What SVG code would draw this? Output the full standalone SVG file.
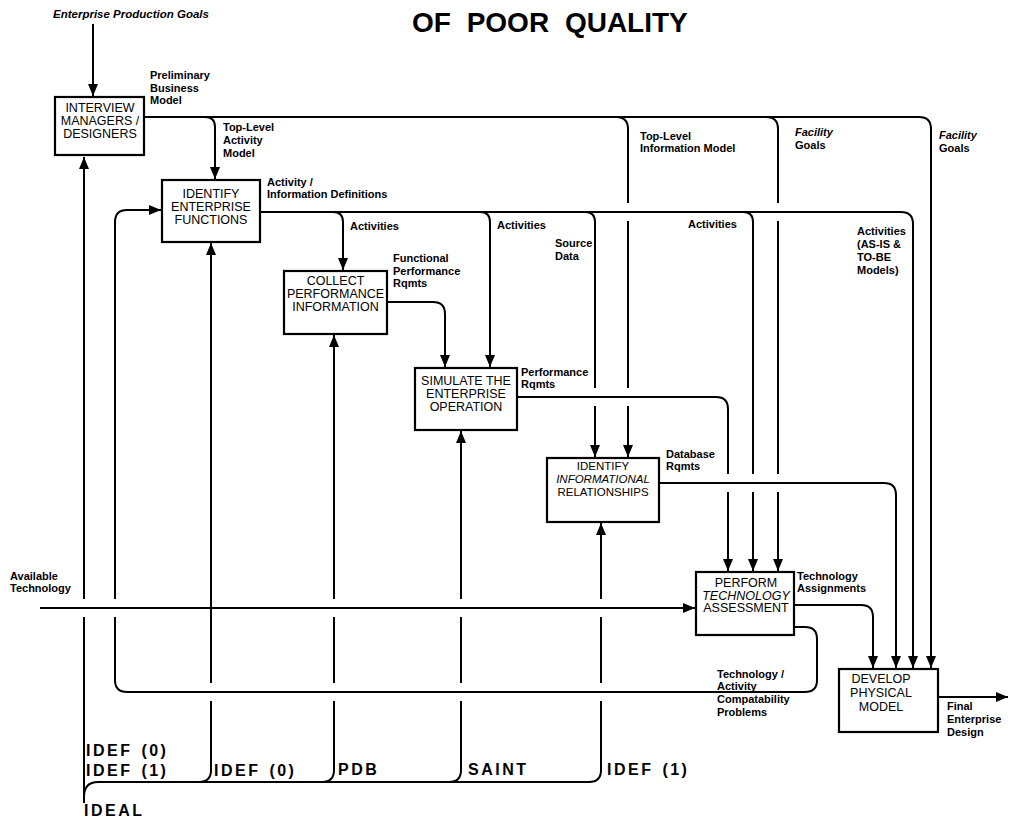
<svg xmlns="http://www.w3.org/2000/svg" width="1009" height="820" viewBox="0 0 1009 820">
<style>
.ln{fill:none;stroke:#000;stroke-width:2}
.box{fill:#fff;stroke:#000;stroke-width:2.2}
.bt{font-family:"Liberation Sans",Arial,sans-serif;font-size:12.5px;text-anchor:middle;fill:#000}
.lb{font-family:"Liberation Sans",Arial,sans-serif;font-size:11px;font-weight:bold;fill:#000}
.it{font-style:italic}
.mech{font-family:"Liberation Sans",Arial,sans-serif;font-size:16px;font-weight:bold;letter-spacing:2.5px;word-spacing:2px;fill:#000}
.title{font-family:"Liberation Sans",Arial,sans-serif;font-size:28px;font-weight:bold;word-spacing:8px;fill:#000}
</style>
<defs>
<marker id="ah" markerWidth="12" markerHeight="10" refX="12" refY="5" orient="auto" markerUnits="userSpaceOnUse"><path d="M0,0 L12,5 L0,10 z" fill="#000"/></marker>
</defs>
<rect width="1009" height="820" fill="#fff"/>
<text class="title" x="412" y="32">OF POOR QUALITY</text>

<g id="connectors">
<!-- control input -->
<path class="ln" d="M93 24 V96" marker-end="url(#ah)"/>
<!-- IDEAL mechanism -->
<path class="ln" d="M84 803 V617"/>
<path class="ln" d="M84 599 V157" marker-end="url(#ah)"/>
<path class="ln" d="M84 797 Q84 782 98 782 H589 Q601 782 601 770 V701"/>
<path class="ln" d="M601 683 V617"/>
<path class="ln" d="M601 599 V523" marker-end="url(#ah)"/>
<path class="ln" d="M199 782 Q211 782 211 770 V701"/>
<path class="ln" d="M211 683 V243" marker-end="url(#ah)"/>
<path class="ln" d="M322 782 Q334 782 334 770 V701"/>
<path class="ln" d="M334 683 V617"/>
<path class="ln" d="M334 599 V335" marker-end="url(#ah)"/>
<path class="ln" d="M449 782 Q461 782 461 770 V701"/>
<path class="ln" d="M461 683 V617"/>
<path class="ln" d="M461 599 V431" marker-end="url(#ah)"/>
<!-- Available technology -->
<path class="ln" d="M40 608 H695" marker-end="url(#ah)"/>
<!-- Interview output -->
<path class="ln" d="M144 117 H919 Q931 117 931 129 V668" marker-end="url(#ah)"/>
<path class="ln" d="M205 117 Q215 117 215 127 V179" marker-end="url(#ah)"/>
<path class="ln" d="M616 117 Q628 117 628 129 V203"/>
<path class="ln" d="M628 221 V388"/>
<path class="ln" d="M628 406 V457" marker-end="url(#ah)"/>
<path class="ln" d="M766 117 Q778 117 778 129 V203"/>
<path class="ln" d="M778 221 V474"/>
<path class="ln" d="M778 492 V571" marker-end="url(#ah)"/>
<!-- Identify enterprise functions output -->
<path class="ln" d="M260 212 H901 Q913 212 913 224 V668" marker-end="url(#ah)"/>
<path class="ln" d="M333 212 Q343 212 343 222 V270" marker-end="url(#ah)"/>
<path class="ln" d="M480 212 Q490 212 490 222 V367" marker-end="url(#ah)"/>
<path class="ln" d="M585 212 Q595 212 595 222 V388"/>
<path class="ln" d="M595 406 V457" marker-end="url(#ah)"/>
<path class="ln" d="M743 212 Q753 212 753 222 V474"/>
<path class="ln" d="M753 492 V571" marker-end="url(#ah)"/>
<!-- Collect output -->
<path class="ln" d="M387 302 H433 Q445 302 445 314 V367" marker-end="url(#ah)"/>
<!-- Simulate output -->
<path class="ln" d="M517 397 H716 Q728 397 728 409 V474"/>
<path class="ln" d="M728 492 V571" marker-end="url(#ah)"/>
<!-- Identify informational output -->
<path class="ln" d="M659 483 H884 Q896 483 896 495 V668" marker-end="url(#ah)"/>
<!-- Perform outputs -->
<path class="ln" d="M794 605 H861 Q873 605 873 617 V668" marker-end="url(#ah)"/>
<path class="ln" d="M794 627 H805 Q817 627 817 639 V680 Q817 692 805 692 H127 Q115 692 115 680 V617"/>
<path class="ln" d="M115 599 V222 Q115 210 127 210 H161" marker-end="url(#ah)"/>
<!-- Develop output -->
<path class="ln" d="M938 697 H1008" marker-end="url(#ah)"/>
</g>

<g id="labels">
<text class="lb it" x="53" y="18" style="font-size:11.5px">Enterprise Production Goals</text>
<text class="lb" x="150" y="79">Preliminary</text>
<text class="lb" x="150" y="91.5">Business</text>
<text class="lb" x="150" y="104">Model</text>
<text class="lb" x="223" y="131">Top-Level</text>
<text class="lb" x="223" y="144">Activity</text>
<text class="lb" x="223" y="157">Model</text>
<text class="lb" x="267" y="186">Activity /</text>
<text class="lb" x="267" y="198">Information Definitions</text>
<text class="lb" x="640" y="140">Top-Level</text>
<text class="lb" x="640" y="152">Information Model</text>
<text class="lb it" x="795" y="136">Facility</text>
<text class="lb" x="795" y="149">Goals</text>
<text class="lb it" x="939" y="139">Facility</text>
<text class="lb" x="939" y="152">Goals</text>
<text class="lb" x="350" y="230">Activities</text>
<text class="lb" x="497" y="229">Activities</text>
<text class="lb" x="555" y="247">Source</text>
<text class="lb" x="555" y="260">Data</text>
<text class="lb" x="688" y="228">Activities</text>
<text class="lb" x="857" y="235">Activities</text>
<text class="lb" x="857" y="248">(AS-IS &amp;</text>
<text class="lb" x="857" y="261">TO-BE</text>
<text class="lb" x="857" y="274">Models)</text>
<text class="lb" x="393" y="262">Functional</text>
<text class="lb" x="393" y="275">Performance</text>
<text class="lb" x="393" y="287">Rqmts</text>
<text class="lb" x="521" y="376">Performance</text>
<text class="lb" x="521" y="388">Rqmts</text>
<text class="lb" x="666" y="458">Database</text>
<text class="lb" x="666" y="470">Rqmts</text>
<text class="lb" x="10" y="580">Available</text>
<text class="lb" x="10" y="592">Technology</text>
<text class="lb" x="797" y="580">Technology</text>
<text class="lb" x="797" y="592">Assignments</text>
<text class="lb" x="717" y="678">Technology /</text>
<text class="lb" x="717" y="690">Activity</text>
<text class="lb" x="717" y="703">Compatability</text>
<text class="lb" x="717" y="716">Problems</text>
<text class="lb" x="947" y="710">Final</text>
<text class="lb" x="947" y="723">Enterprise</text>
<text class="lb" x="947" y="736">Design</text>
<text class="mech" x="86" y="756">IDEF (0)</text>
<text class="mech" x="86" y="776">IDEF (1)</text>
<text class="mech" x="214" y="776">IDEF (0)</text>
<text class="mech" x="338" y="775">PDB</text>
<text class="mech" x="468" y="775">SAINT</text>
<text class="mech" x="607" y="775">IDEF (1)</text>
<text class="mech" x="84" y="816">IDEAL</text>
</g>

<g id="interview">
<rect class="box" x="55" y="97" width="89" height="58"/>
<text class="bt" x="100" y="112">INTERVIEW</text>
<text class="bt" x="100" y="125">MANAGERS /</text>
<text class="bt" x="100" y="138">DESIGNERS</text>
</g>
<g id="identify-functions">
<rect class="box" x="162" y="180" width="98" height="62"/>
<text class="bt" x="211" y="198">IDENTIFY</text>
<text class="bt" x="211" y="211">ENTERPRISE</text>
<text class="bt" x="211" y="224">FUNCTIONS</text>
</g>
<g id="collect">
<rect class="box" x="284" y="271" width="103" height="63"/>
<text class="bt" x="335.5" y="285">COLLECT</text>
<text class="bt" x="335.5" y="298">PERFORMANCE</text>
<text class="bt" x="335.5" y="311">INFORMATION</text>
</g>
<g id="simulate">
<rect class="box" x="415" y="368" width="102" height="62"/>
<text class="bt" x="466" y="385">SIMULATE THE</text>
<text class="bt" x="466" y="398">ENTERPRISE</text>
<text class="bt" x="466" y="411">OPERATION</text>
</g>
<g id="identify-info">
<rect class="box" x="547" y="458" width="112" height="64"/>
<text class="bt" x="603" y="470" style="font-size:11.5px">IDENTIFY</text>
<text class="bt it" x="603" y="483" style="font-size:11.5px">INFORMATIONAL</text>
<text class="bt" x="603" y="496" style="font-size:11.5px">RELATIONSHIPS</text>
</g>
<g id="perform">
<rect class="box" x="696" y="572" width="98" height="63"/>
<text class="bt" x="746" y="587">PERFORM</text>
<text class="bt it" x="746" y="600">TECHNOLOGY</text>
<text class="bt" x="746" y="612">ASSESSMENT</text>
</g>
<g id="develop">
<rect class="box" x="839" y="669" width="99" height="63"/>
<text class="bt" x="881" y="683">DEVELOP</text>
<text class="bt" x="881" y="697">PHYSICAL</text>
<text class="bt" x="881" y="711">MODEL</text>
</g>
</svg>
